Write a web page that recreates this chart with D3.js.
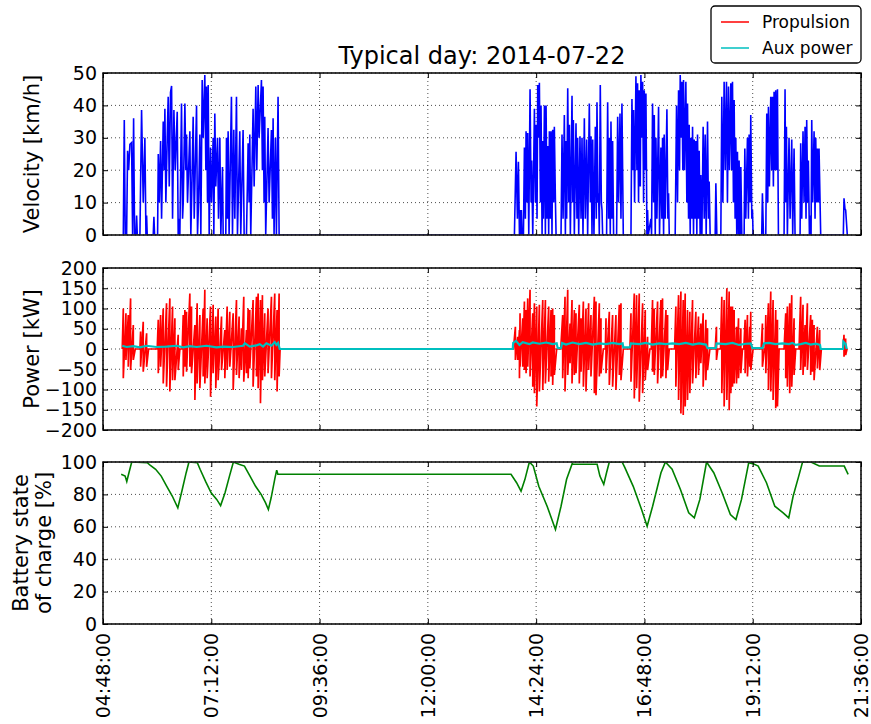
<!DOCTYPE html>
<html>
<head>
<meta charset="utf-8">
<script src="https://cdn.jsdelivr.net/npm/d3@7"></script>
<style>
    body { margin: 0; background: #fff; }
    text { font-family: "DejaVu Sans", sans-serif; }
</style>
</head>
<body>
<div class="container"></div>
<script>
// times are minutes after midnight
var xTickTimes = [288, 432, 576, 720, 864, 1008, 1152, 1296];
var xTickLabels = ["04:48:00", "07:12:00", "09:36:00", "12:00:00", "14:24:00", "16:48:00", "19:12:00", "21:36:00"];

// velocity [km/h]
var velTime = [
    315.0, 316.3, 317.6, 319.4, 320.7, 322.1, 323.8, 326.0, 327.4, 328.7, 330.0, 331.8, 332.7, 333.6,
    337.1, 339.3, 341.5, 343.7, 345.1, 346.0, 346.8, 354.8, 355.7, 356.6, 360.6, 361.5, 362.8, 364.6,
    365.9, 368.1, 369.4, 370.3, 371.6, 373.4, 374.7, 376.1, 377.8, 379.2, 380.5, 382.3, 384.0, 386.7,
    388.0, 389.3, 390.2, 392.4, 393.8, 394.7, 396.9, 398.2, 399.1, 400.4, 403.5, 404.8, 406.2, 407.9,
    409.3, 410.6, 412.4, 413.7, 415.0, 416.8, 418.1, 419.9, 421.2, 423.4, 424.8, 425.6, 427.0, 427.9,
    429.2, 431.0, 432.3, 434.5, 435.4, 436.7, 438.0, 440.3, 441.6, 443.4, 444.7, 446.9, 447.8, 451.3,
    452.2, 453.5, 454.4, 455.7, 458.8, 460.2, 461.9, 463.3, 465.5, 466.8, 469.9, 471.2, 474.3, 475.7,
    478.8, 481.0, 482.3, 483.2, 484.5, 487.6, 489.0, 491.2, 492.5, 494.3, 495.6, 498.7, 500.0, 500.9,
    502.2, 503.1, 504.4, 507.5, 508.9, 512.0, 513.3, 514.2, 515.5, 517.3, 518.6, 520.8, 522.2,
    835.1, 837.3, 839.1, 840.4, 841.8, 842.6, 843.5, 844.4, 845.3, 847.1, 848.4, 849.7, 850.6, 851.9,
    852.8, 854.2, 855.9, 857.3, 858.1, 859.5, 861.7, 863.0, 863.9, 865.2, 866.1, 867.4, 868.3, 869.7,
    870.5, 871.9, 872.8, 873.6, 875.0, 876.3, 877.2, 878.5, 879.4, 880.7, 881.6, 882.9, 883.8, 885.1,
    886.0, 887.4, 888.2, 889.6, 890.5, 897.1, 898.4, 899.8, 901.5, 902.9, 903.7, 904.6, 906.0, 907.3,
    908.2, 909.5, 911.7, 912.6, 913.5, 914.8, 917.0, 918.3, 919.2, 920.6, 922.3, 923.7, 925.0, 926.3,
    928.1, 929.4, 931.2, 932.5, 934.7, 936.1, 936.9, 938.3, 939.2, 940.9, 942.7, 944.0, 944.9, 946.2,
    947.1, 948.0, 949.3, 950.7, 951.6, 952.4, 957.7, 959.1, 960.4, 961.3, 962.6, 963.5, 964.8, 965.7,
    967.0, 971.0, 972.4, 973.7, 975.5, 976.8, 978.1, 979.9, 990.1, 991.4, 992.7, 993.6, 994.9, 996.7,
    998.0, 998.9, 1000.2, 1001.1, 1002.5, 1003.3, 1004.7, 1005.6, 1006.9, 1007.8, 1009.1, 1010.0, 1011.3, 1012.2,
    1013.1, 1016.6, 1017.5, 1018.8, 1020.2, 1021.1, 1022.4, 1023.3, 1024.6, 1026.8, 1028.1, 1029.9, 1031.2, 1032.1,
    1033.5, 1034.3, 1035.7, 1037.9, 1039.2, 1040.1, 1041.0, 1048.9, 1050.7, 1052.0, 1053.4, 1054.7, 1055.6, 1056.9,
    1057.8, 1059.1, 1060.0, 1061.3, 1063.1, 1064.4, 1065.3, 1066.7, 1067.5, 1068.9, 1069.8, 1071.1, 1072.0, 1073.3,
    1074.2, 1075.5, 1076.4, 1077.7, 1078.6, 1079.9, 1080.8, 1082.1, 1083.0, 1084.4, 1086.1, 1087.5, 1088.8, 1090.1,
    1091.9, 1093.2, 1094.1, 1095.4, 1102.1, 1103.0, 1104.3, 1109.6, 1110.9, 1112.3, 1114.0, 1115.4, 1117.1, 1118.4,
    1119.8, 1121.1, 1122.9, 1124.2, 1125.1, 1126.4, 1127.3, 1128.6, 1129.5, 1130.8, 1131.7, 1133.1, 1133.9, 1135.3,
    1136.2, 1137.5, 1140.6, 1141.5, 1142.8, 1145.0, 1146.3, 1147.2, 1148.6, 1149.4, 1150.8, 1151.7, 1152.5, 1164.0,
    1164.9, 1166.3, 1169.4, 1170.7, 1172.0, 1172.9, 1174.2, 1176.0, 1177.3, 1178.2, 1179.5, 1180.4, 1181.8, 1182.6,
    1184.0, 1184.9, 1186.2, 1193.7, 1195.0, 1195.9, 1196.8, 1198.1, 1200.3, 1201.7, 1203.9, 1205.2, 1207.0, 1208.3,
    1215.0, 1215.8, 1217.2, 1218.9, 1220.3, 1221.6, 1222.9, 1223.8, 1225.1, 1226.0, 1227.4, 1229.1, 1229.6, 1230.5,
    1231.8, 1233.6, 1234.9, 1235.8, 1237.1, 1238.0, 1239.3, 1240.2, 1242.4, 1272.5, 1273.4, 1274.7, 1275.6, 1277.8
];
var velKmh = [
    0, 35.5, 0, 0, 26, 20, 28, 28.5, 0, 36, 0, 0, 6, 0,
    0, 38.6, 10, 30, 0, 6, 0, 0, 5.6, 0, 0, 25, 10, 29,
    5, 35, 20, 39, 10, 30, 42.7, 15, 44, 46, 5, 38.6, 20, 38,
    0, 5, 0, 40.6, 5, 10, 40.6, 20, 31, 10, 32, 0, 15, 36.5,
    5, 20, 40, 0, 10, 31, 0, 47.8, 30, 49.4, 20, 45.8, 10, 46.3,
    0, 27, 10, 30, 0, 37.5, 15, 30, 5, 30, 0, 21, 0, 0,
    30, 5, 32, 0, 42.7, 0, 32.5, 5, 42.7, 0, 32, 0, 32.4, 0,
    0, 28.3, 10, 31, 0, 39, 15, 45.8, 20, 46.3, 30, 47.8, 20, 45.8,
    10, 36.5, 0, 33, 10, 32.4, 5, 36, 0, 30, 0, 42.7, 0,
    0, 25.7, 5, 22.6, 0, 7.7, 0, 7.7, 0, 0, 27, 5, 32, 10,
    31.5, 0, 45, 10, 23, 0, 39, 10, 34, 5, 46.3, 30, 47, 10,
    40, 0, 29, 5, 40, 0, 40, 5, 27.5, 0, 32, 5, 32, 0,
    32.5, 10, 33.4, 11, 0, 0, 31, 5, 37, 0, 29, 5, 45.3, 10,
    34, 0, 43, 10, 35.5, 0, 34.5, 5, 30, 0, 30.5, 5, 30, 0,
    36, 5, 29.5, 0, 40.6, 10, 30.5, 0, 29.5, 0, 33.4, 5, 41, 10,
    12.9, 0, 46.3, 10, 7.7, 0, 0, 41, 5, 30, 0, 35, 5, 29,
    0, 0, 36.5, 10, 37.5, 5, 40.6, 0, 0, 42, 20, 38.6, 10, 49,
    20, 46.8, 10, 44.7, 15, 49.4, 30, 47.3, 10, 44.7, 20, 43.7, 0, 7.7,
    0, 5, 0, 40.6, 10, 37, 0, 30, 5, 39.6, 0, 27, 5, 30,
    0, 31, 5, 38.8, 5, 12.9, 0, 0, 40, 10, 44.7, 20, 49.4, 30,
    47.3, 20, 47.8, 20, 47.3, 10, 40.6, 5, 34, 0, 30, 5, 33.4, 0,
    29.5, 5, 29, 0, 31, 5, 26, 0, 18.5, 0, 33.4, 5, 31, 0,
    35, 5, 16.5, 0, 0, 16, 0, 0, 42.7, 10, 47.3, 20, 47.3, 10,
    45.8, 20, 46.8, 20, 47.3, 10, 41.7, 5, 30, 0, 25.7, 0, 23, 0,
    21, 0, 0, 26.7, 5, 30, 5, 31, 10, 37, 5, 7.7, 0, 0,
    12.9, 0, 0, 37.5, 10, 39.6, 15, 42.7, 20, 42.7, 15, 44.2, 20, 44.7,
    20, 45, 0, 0, 45, 10, 33.4, 0, 30, 5, 29.5, 0, 26.7, 0,
    0, 28.3, 5, 32, 10, 33.4, 5, 35.5, 10, 23, 0, 6, 0, 35.5,
    10, 32, 5, 30, 10, 26.7, 10, 26.7, 0, 0, 11.3, 8, 7.7, 0
];

// propulsion power [kW], max and min in each interval
var pwrTime = [
    313.6, 315.0, 318.5, 321.6, 324.7, 328.3, 330.9, 337.1, 338.0, 341.5, 346.0, 348.6, 360.1, 361.5,
    364.6, 368.1, 372.5, 376.9, 380.5, 383.6, 388.0, 390.2, 393.3, 394.7, 396.9, 399.1, 403.5, 405.7,
    410.2, 413.2, 416.8, 421.2, 423.4, 426.5, 431.0, 434.5, 438.0, 441.1, 445.6, 450.0, 453.1, 456.6,
    461.1, 465.5, 469.0, 472.1, 475.2, 478.8, 481.0, 483.2, 487.6, 492.1, 494.3, 497.4, 500.0, 503.1,
    507.5, 512.0, 516.4, 519.5, 522.2, 523.5,
    833.8, 836.4, 839.5, 841.8, 842.6, 846.2, 848.4, 850.6, 852.8, 855.9, 859.5, 861.7, 864.8, 868.3,
    872.8, 876.3, 880.7, 883.8, 886.0, 888.2, 891.3, 896.7, 899.3, 902.4, 906.0, 909.1, 911.7, 914.8,
    917.0, 921.4, 923.7, 926.8, 930.3, 933.8, 936.9, 941.4, 943.6, 948.0, 950.2, 953.3, 956.0, 956.9,
    961.3, 965.7, 970.1, 974.6, 976.8, 979.9, 988.7, 990.1, 994.5, 997.6, 1001.1, 1005.6, 1009.1, 1012.2,
    1015.3, 1017.1, 1018.8, 1021.1, 1025.5, 1029.9, 1032.1, 1036.6, 1038.8, 1041.0, 1048.1, 1049.8, 1053.4, 1056.5,
    1059.6, 1062.2, 1065.3, 1068.4, 1072.0, 1076.4, 1079.9, 1083.0, 1086.1, 1089.7, 1091.9, 1095.0, 1102.1, 1103.8,
    1105.6, 1109.2, 1110.9, 1114.0, 1117.6, 1120.7, 1122.9, 1125.1, 1127.3, 1130.4, 1133.1, 1136.2, 1138.4, 1140.1,
    1141.9, 1145.0, 1148.1, 1149.4, 1152.5, 1163.2, 1164.9, 1167.6, 1168.5, 1169.4, 1172.9, 1176.0, 1179.1, 1182.6,
    1184.9, 1187.1, 1193.7, 1195.9, 1198.1, 1201.2, 1203.9, 1207.0, 1209.2, 1213.6, 1215.8, 1218.9, 1221.6, 1224.7,
    1229.1, 1231.3, 1233.6, 1238.0, 1241.1, 1243.3, 1272.1, 1273.4, 1275.6, 1277.4
];
var pwrMax = [
    0, 100, 88, 84, 125, 59, 0, 0, 43, 67, 39, 0, 0, 72,
    84, 100, 113, 125, 105, 76, 35, 0, 0, 84, 96, 92, 137, 105,
    59, 113, 84, 100, 146, 76, 105, 109, 80, 100, 80, 47, 105, 92,
    88, 121, 80, 51, 129, 47, 100, 96, 121, 129, 137, 121, 133, 88,
    100, 129, 137, 96, 137, 0,
    0, 55, 30, 47, 88, 76, 117, 96, 125, 146, 88, 113, 105, 109,
    121, 121, 105, 96, 100, 84, 0, 0, 84, 129, 146, 63, 121, 96,
    88, 109, 76, 117, 100, 113, 84, 129, 117, 113, 76, 0, 0, 76,
    92, 84, 84, 109, 113, 0, 0, 88, 137, 133, 137, 113, 96, 30,
    0, 0, 121, 100, 117, 121, 125, 96, 84, 0, 0, 105, 133, 142,
    121, 137, 96, 92, 121, 92, 80, 63, 88, 72, 51, 0, 0, 55,
    0, 0, 129, 121, 150, 142, 105, 105, 96, 55, 76, 51, 0, 0,
    72, 84, 55, 92, 0, 0, 63, 0, 0, 84, 113, 142, 121, 96,
    72, 0, 0, 88, 105, 113, 133, 76, 0, 0, 129, 109, 59, 113,
    84, 72, 59, 55, 47, 0, 0, 35, 26, 0
];
var pwrMin = [
    0, -72, -27, -44, -52, -27, 0, 0, -44, -56, -44, 0, 0, -60,
    -44, -85, -93, -105, -77, -77, -52, 0, 0, -68, -44, -56, -44, -60,
    -126, -85, -97, -68, -85, -72, -118, -60, -97, -77, -52, -72, -52, -44,
    -101, -64, -72, -52, -81, -60, -72, -48, -93, -68, -97, -134, -77, -68,
    -60, -72, -77, -105, -68, 0,
    0, -27, -27, -72, -44, -44, -52, -60, -44, -68, -93, -109, -142, -105,
    -101, -85, -81, -68, -89, -64, 0, 0, -72, -105, -64, -35, -85, -64,
    -60, -85, -56, -93, -105, -52, -68, -109, -114, -68, -60, 0, 0, -60,
    -89, -93, -101, -64, -77, 0, 0, -81, -122, -97, -130, -109, -77, -52,
    0, 0, -56, -64, -85, -72, -68, -72, -52, 0, 0, -93, -126, -159,
    -163, -142, -126, -109, -85, -72, -64, -35, -93, -77, -52, 0, 0, -27,
    0, 0, -109, -142, -126, -151, -109, -93, -85, -85, -72, -60, 0, 0,
    -60, -68, -44, -52, 0, 0, -44, 0, 0, -60, -101, -105, -126, -146,
    -142, 0, 0, -72, -93, -109, -93, -64, 0, 0, -52, -64, -44, -52,
    -64, -56, -77, -48, -52, 0, 0, -19, -15, 0
];

// auxiliary power [kW]
var auxTime = [
    313.6, 319.4, 328.3, 337.1, 346.0, 359.2, 372.5, 385.8, 394.7, 403.5, 412.4, 425.6, 438.9, 447.8,
    461.1, 474.3, 476.6, 483.2, 492.1, 496.5, 500.9, 505.3, 512.0, 516.4, 518.6, 520.8, 523.0,
    832.9, 833.5, 837.3, 841.8, 846.2, 855.0, 859.5, 868.3, 877.2, 886.0, 891.3, 892.7, 897.1, 898.4,
    903.7, 912.6, 921.4, 930.3, 939.2, 948.0, 956.9, 965.7, 974.6, 979.0, 979.9, 988.7, 990.1, 1001.1,
    1010.0, 1018.8, 1027.7, 1036.6, 1045.4, 1054.3, 1063.1, 1072.0, 1080.8, 1089.7, 1091.9, 1103.0, 1103.8, 1116.2,
    1125.1, 1133.9, 1142.8, 1149.4, 1151.7, 1164.9, 1167.2, 1173.8, 1182.6, 1191.5, 1200.3, 1204.8, 1209.2, 1215.8,
    1222.5, 1229.1, 1235.8, 1241.5, 1242.4, 1272.1, 1272.5, 1275.6, 1277.0
];
var auxKw = [
    8, 5, 7, 4, 8, 5, 6, 8, 4, 7, 5, 8, 4, 6,
    5, 8, 14, 6, 9, 12, 6, 14, 8, 17, 10, 15, 0,
    0, 15, 20, 10, 17, 12, 16, 13, 16, 12, 14, 2, 2, 15,
    11, 16, 12, 15, 11, 14, 12, 15, 12, 14, 4, 4, 14, 12,
    15, 11, 14, 12, 14, 12, 15, 11, 14, 11, 2, 2, 14, 12,
    15, 10, 13, 14, 2, 2, 14, 15, 12, 14, 12, 15, 10, 12,
    15, 11, 13, 10, 0, 0, 18, 12, 0
];

// battery state of charge [%]
var socTime = [
    312.2, 317.4, 319.6, 322.5, 326.2, 346.9, 350.6, 358.0, 365.4, 372.8, 380.1, 387.5, 393.4, 398.6,
    402.3, 413.4, 417.1, 424.4, 431.8, 439.2, 444.4, 450.3, 456.2, 461.4, 468.8, 476.1, 483.5, 490.9,
    498.3, 504.2, 507.9, 511.6, 516.8, 519.0, 520.5, 830.6, 838.0, 843.9, 849.1, 855.0, 860.2, 867.5,
    878.6, 889.7, 897.1, 904.5, 911.9, 913.3, 945.1, 948.8, 953.9, 957.6, 961.3, 978.3, 982.0, 993.1,
    1004.2, 1011.6, 1018.9, 1030.0, 1035.9, 1044.8, 1055.9, 1066.9, 1074.3, 1081.7, 1090.6, 1100.2, 1111.3, 1122.3,
    1129.7, 1137.1, 1146.7, 1151.9, 1159.3, 1170.3, 1181.4, 1192.5, 1199.9, 1205.8, 1213.2, 1218.3, 1229.4, 1240.5,
    1273.7, 1278.9
];
var socPct = [
    92.4, 91.3, 88, 93.4, 100, 99.6, 98, 95.5, 91.3, 85, 79, 71.7, 83, 93.4,
    100, 99.6, 95.5, 88, 81, 76.9, 73.1, 81, 91.3, 100, 98.6, 97.5, 91.3, 85,
    80, 74.8, 70.7, 77.9, 90.3, 95, 92.4, 92.4, 87.2, 82, 89.3, 100, 97.5, 85,
    72.7, 58.3, 72.7, 89.3, 99, 98.6, 98.6, 91.3, 86.2, 93.4, 100, 100, 96.5, 85,
    70.7, 60.3, 72.7, 93.4, 100, 95.5, 83, 68.6, 65.5, 76.9, 100, 93.4, 81, 67.6,
    64.5, 76.9, 99.6, 99, 97.5, 87.2, 72.7, 68.6, 65.5, 79, 91.3, 100, 100, 97.5,
    97.5, 92.4
];

var margin = {
        left: 103
    },
    width = 758,
    panelH = 162;

var svg = d3.select(".container")
    .append("svg")
    .attr("width", 871)
    .attr("height", 724);

var x = d3.scaleLinear()
    .domain([xTickTimes[0], xTickTimes[xTickTimes.length - 1]])
    .range([0, width]);

// clip a hair inside the frame so that lines at the axis limits hide under it
svg.append("defs").append("clipPath")
    .attr("id", "clip")
    .append("rect")
    .attr("y", 0.5)
    .attr("width", width)
    .attr("height", panelH - 1);

function panel(top, y, yTicks, showX) {
    var g = svg.append("g")
        .attr("transform", "translate(" + margin.left + "," + top + ")");

    // dotted grid
    g.append("g").selectAll("line")
        .data(yTicks)
        .enter()
        .append("line")
        .attr("x1", 0)
        .attr("x2", width)
        .attr("y1", function (d) { return y(d); })
        .attr("y2", function (d) { return y(d); });
    g.append("g").selectAll("line")
        .data(xTickTimes)
        .enter()
        .append("line")
        .attr("x1", function (d) { return x(d); })
        .attr("x2", function (d) { return x(d); })
        .attr("y1", 0)
        .attr("y2", panelH);
    g.selectAll("line")
        .attr("stroke", "#000")
        .attr("stroke-width", 0.7)
        .attr("stroke-dasharray", "1,3");

    var plot = g.append("g").attr("clip-path", "url(#clip)");

    // inward ticks on all four sides
    var left = g.append("g")
        .call(d3.axisLeft(y).tickValues(yTicks).tickSize(-5).tickPadding(6));
    g.append("g")
        .attr("transform", "translate(" + width + ",0)")
        .call(d3.axisRight(y).tickValues(yTicks).tickSize(-5).tickFormat(""));
    g.append("g")
        .call(d3.axisTop(x).tickValues(xTickTimes).tickSize(-5).tickFormat(""));
    var bottom = g.append("g")
        .attr("transform", "translate(0," + panelH + ")")
        .call(d3.axisBottom(x).tickValues(xTickTimes).tickSize(-5)
            .tickFormat(function (d, i) { return showX ? xTickLabels[i] : ""; }));

    left.selectAll("text").style("font-size", "19px").attr("fill", "#000");
    bottom.selectAll("text")
        .style("font-size", "19px")
        .attr("fill", "#000")
        .attr("transform", "rotate(-90)")
        .attr("x", -9)
        .attr("y", 0)
        .attr("dy", "0.34em")
        .style("text-anchor", "end");
    g.selectAll(".domain").remove();
    g.selectAll(".tick line").attr("stroke", "#000").attr("stroke-width", 1);

    g.append("rect")
        .attr("width", width)
        .attr("height", panelH)
        .attr("fill", "none")
        .attr("stroke", "#000")
        .attr("stroke-width", 1.5);

    return plot;
}

function yLabel(lines, cy, baselines) {
    lines.forEach(function (s, i) {
        svg.append("text")
            .attr("transform", "translate(" + baselines[i] + "," + cy + ") rotate(-90)")
            .attr("text-anchor", "middle")
            .style("font-size", "21px")
            .text(s);
    });
}

// velocity
var yVel = d3.scaleLinear().domain([0, 50]).range([panelH, 0]);
var p1 = panel(73, yVel, [0, 10, 20, 30, 40, 50], false);
p1.append("path")
    .datum(d3.zip(velTime, velKmh))
    .attr("fill", "none")
    .attr("stroke", "#0000ff")
    .attr("stroke-width", 1.6)
    .attr("d", d3.line()
        .x(function (d) { return x(d[0]); })
        .y(function (d) { return yVel(d[1]); }));
yLabel(["Velocity [km/h]"], 73 + panelH / 2, [39]);

// power
var yPow = d3.scaleLinear().domain([-200, 200]).range([panelH, 0]);
var p2 = panel(268, yPow, [-200, -150, -100, -50, 0, 50, 100, 150, 200], false);
var pwrPoints = [];
pwrTime.forEach(function (t, i) {
    pwrPoints.push([t, pwrMax[i]]);
    if (pwrMin[i] !== pwrMax[i]) pwrPoints.push([t, pwrMin[i]]);
});
p2.append("path")
    .datum(pwrPoints)
    .attr("fill", "none")
    .attr("stroke", "#ff0000")
    .attr("stroke-width", 1.7)
    .attr("d", d3.line()
        .x(function (d) { return x(d[0]); })
        .y(function (d) { return yPow(d[1]); }));
p2.append("path")
    .datum(d3.zip(auxTime, auxKw))
    .attr("fill", "none")
    .attr("stroke", "#00bfbf")
    .attr("stroke-width", 2.2)
    .attr("d", d3.line()
        .x(function (d) { return x(d[0]); })
        .y(function (d) { return yPow(d[1]); }));
yLabel(["Power [kW]"], 268 + panelH / 2, [39]);

// battery state of charge
var ySoc = d3.scaleLinear().domain([0, 100]).range([panelH, 0]);
var p3 = panel(462, ySoc, [0, 20, 40, 60, 80, 100], true);
p3.append("path")
    .datum(d3.zip(socTime, socPct))
    .attr("fill", "none")
    .attr("stroke", "#008000")
    .attr("stroke-width", 1.6)
    .attr("d", d3.line()
        .x(function (d) { return x(d[0]); })
        .y(function (d) { return ySoc(d[1]); }));
yLabel(["Battery state", "of charge [%]"], 462 + panelH / 2, [28, 51]);

// title
svg.append("text")
    .attr("x", margin.left + width / 2)
    .attr("y", 64)
    .attr("text-anchor", "middle")
    .style("font-size", "24px")
    .text("Typical day: 2014-07-22");

// legend
var legendNames = ["Propulsion", "Aux power"];
var legendColors = ["#ff0000", "#00bfbf"];
var legend = svg.append("g").attr("transform", "translate(711,6)");
legend.append("rect")
    .attr("width", 150)
    .attr("height", 57)
    .attr("rx", 4)
    .attr("fill", "#fff")
    .attr("stroke", "#000")
    .attr("stroke-width", 1.3);
legendNames.forEach(function (name, i) {
    legend.append("line")
        .attr("x1", 10)
        .attr("x2", 38)
        .attr("y1", 16 + i * 26)
        .attr("y2", 16 + i * 26)
        .attr("stroke", legendColors[i])
        .attr("stroke-width", 1.5);
    legend.append("text")
        .attr("x", 51)
        .attr("y", 22 + i * 26)
        .style("font-size", "17px")
        .text(name);
});
</script>
</body>
</html>
